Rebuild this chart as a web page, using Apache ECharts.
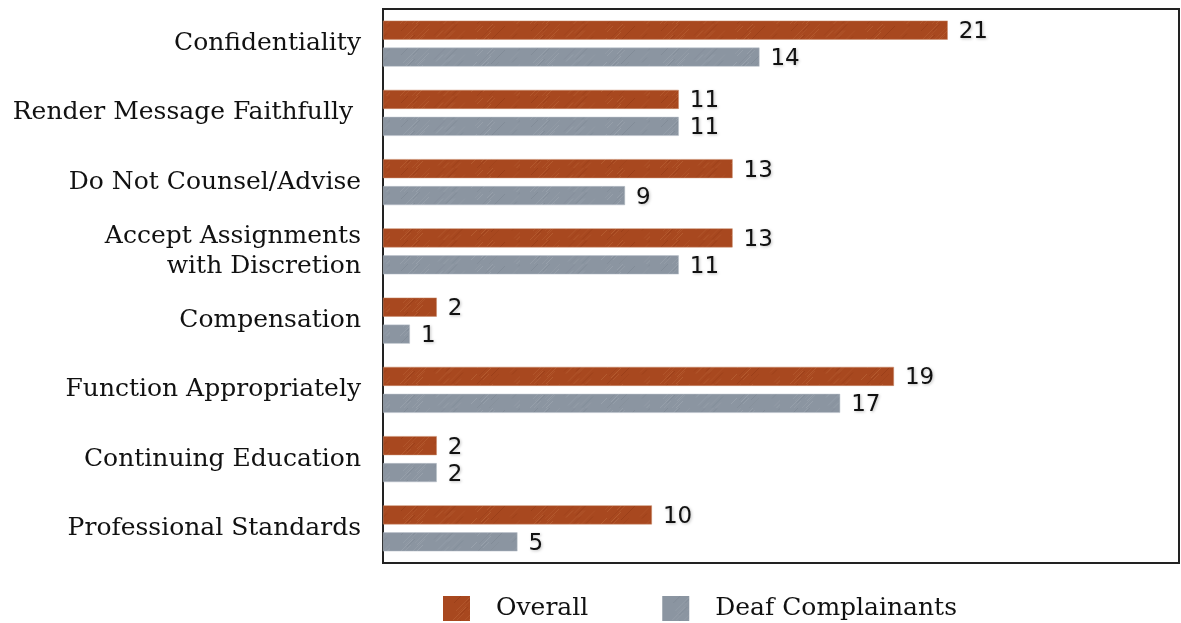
<!DOCTYPE html>
<html>
<head>
<meta charset="utf-8">
<script src="https://cdn.jsdelivr.net/npm/echarts@6/dist/echarts.min.js"></script>
<style>
  html, body { margin: 0; padding: 0; background: #fff; }
  #chart { width: 1181px; height: 623px; }
</style>
</head>
<body>
<div id="chart"></div>
<script>
  // categories, top to bottom
  const categories = [
    'Confidentiality',
    'Render Message Faithfully ',
    'Do Not Counsel/Advise',
    'Accept Assignments\nwith Discretion',
    'Compensation',
    'Function Appropriately',
    'Continuing Education',
    'Professional Standards'
  ]
  const overall = [21, 11, 13, 13, 2, 19, 2, 10]
  const deaf = [14, 11, 9, 11, 1, 17, 2, 5]

  // brushed texture for the bars (diagonal streaks, fixed pattern)
  function makeTexture(base, light, dark) {
    const c = document.createElement('canvas')
    c.width = 130
    c.height = 24
    const ctx = c.getContext('2d')
    ctx.fillStyle = base
    ctx.fillRect(0, 0, c.width, c.height)
    ctx.lineWidth = 1
    for (let i = 0; i < 44; i++) {
      const x = (i * 37) % 150 - 10
      const len = 5 + (i * 7) % 12
      ctx.strokeStyle = i % 3 === 0 ? dark : light
      ctx.globalAlpha = 0.2 + ((i * 13) % 5) * 0.06
      const y = (i * 11) % 24
      ctx.beginPath()
      ctx.moveTo(x, y + len * 0.5)
      ctx.lineTo(x + len, y - len * 0.5)
      ctx.stroke()
    }
    return { image: c, repeat: 'repeat' }
  }

  const orangeTex = makeTexture('#a8481f', '#c47444', '#8a3512')
  const grayTex = makeTexture('#8b95a1', '#a9b1ba', '#77818d')

  const chart = echarts.init(document.getElementById('chart'))

  // value label style (sans, slight shadow like the original)
  const valueLabel = {
    show: true,
    position: 'right',
    distance: 11,
    offset: [0, 2],
    fontFamily: 'DejaVu Sans',
    fontSize: 23,
    color: '#111',
    textShadowColor: 'rgba(0,0,0,0.25)',
    textShadowBlur: 3,
    textShadowOffsetX: 1,
    textShadowOffsetY: 1
  }

  chart.setOption({
    animation: false,
    grid: {
      left: 383,
      right: 2,
      top: 9,
      bottom: 60,
      show: true,
      borderColor: '#222',
      borderWidth: 2
    },
    legend: {
      bottom: 2,
      left: 443,
      padding: 0,
      icon: 'rect',
      itemWidth: 27,
      itemHeight: 25,
      itemGap: 74,
      itemStyle: { borderWidth: 0 },
      textStyle: {
        fontFamily: 'DejaVu Serif',
        fontSize: 25,
        color: '#111',
        padding: [0, 0, 0, 21]
      },
      data: ['Overall', 'Deaf Complainants']
    },
    xAxis: {
      type: 'value',
      min: 0,
      max: 29.6,
      show: false
    },
    yAxis: {
      type: 'category',
      inverse: true,
      data: categories,
      axisLine: { show: false },
      axisTick: { show: false },
      axisLabel: {
        margin: 22,
        fontFamily: 'DejaVu Serif',
        fontSize: 25,
        lineHeight: 30,
        padding: [6, 0, 0, 0],
        color: '#111'
      }
    },
    series: [
      {
        name: 'Overall',
        type: 'bar',
        data: overall,
        barWidth: 19,
        barGap: '42%',
        itemStyle: {
          color: orangeTex,
          borderColor: '#c98a6a',
          borderWidth: 0.5
        },
        label: valueLabel
      },
      {
        name: 'Deaf Complainants',
        type: 'bar',
        data: deaf,
        barWidth: 19,
        itemStyle: {
          color: grayTex,
          borderColor: '#b9c0c8',
          borderWidth: 0.5
        },
        label: valueLabel
      }
    ]
  })
</script>
</body>
</html>
